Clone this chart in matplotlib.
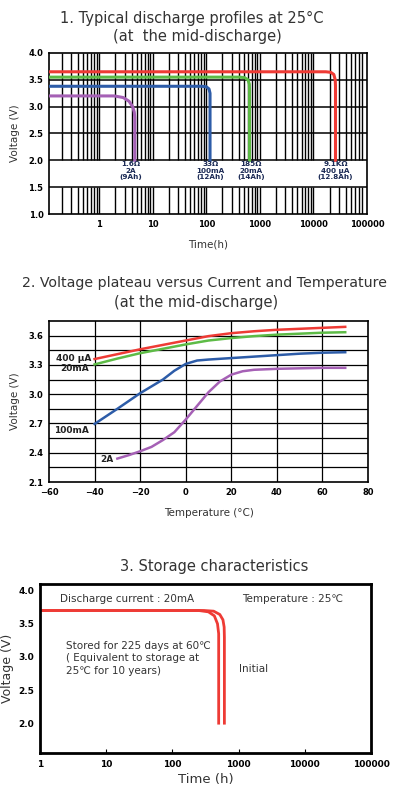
import matplotlib.pyplot as plt
import matplotlib.ticker as mticker
import numpy as np

# --- chart 1: discharge profiles (time in h, voltage in V)
t_2A = [0.115, 1.9, 2.8, 3.6, 4.2, 4.5, 4.6, 4.6]
v_2A = [3.20, 3.20, 3.17, 3.10, 3.00, 2.90, 2.80, 2.00]
t_100mA = [0.115, 82, 100, 112, 117, 117]
v_100mA = [3.38, 3.38, 3.37, 3.33, 3.25, 2.00]
t_20mA = [0.115, 420, 520, 600, 635, 640, 640]
v_20mA = [3.55, 3.55, 3.54, 3.50, 3.42, 3.30, 2.00]
t_400uA = [0.115, 17000, 21000, 24000, 25500, 25800, 25800]
v_400uA = [3.65, 3.65, 3.64, 3.60, 3.50, 3.38, 2.00]
load_labels = ["1.6Ω\n2A\n(9Ah)", "33Ω\n100mA\n(12Ah)", "185Ω\n20mA\n(14Ah)", "9.1KΩ\n400 µA\n(12.8Ah)"]
load_label_x = [3.9, 120, 690, 25800]

# --- chart 2: plateau voltage vs temperature
temp_400uA = [-40, -30, -20, -10, 0, 10, 20, 30, 40, 50, 60, 70]
plat_400uA = [3.36, 3.41, 3.46, 3.505, 3.55, 3.595, 3.625, 3.645, 3.66, 3.67, 3.68, 3.69]
temp_20mA = [-40, -30, -20, -10, 0, 10, 20, 30, 40, 50, 60, 70]
plat_20mA = [3.305, 3.365, 3.42, 3.465, 3.51, 3.55, 3.575, 3.595, 3.61, 3.62, 3.63, 3.635]
temp_100mA = [-40, -30, -20, -10, -5, 0, 5, 10, 20, 30, 40, 50, 60, 70]
plat_100mA = [2.695, 2.85, 3.01, 3.15, 3.24, 3.31, 3.345, 3.355, 3.37, 3.385, 3.40, 3.415, 3.425, 3.43]
temp_2A = [-30, -25, -20, -15, -10, -5, 0, 5, 10, 15, 20, 25, 30, 40, 50, 60, 70]
plat_2A = [2.34, 2.375, 2.415, 2.46, 2.53, 2.61, 2.74, 2.88, 3.02, 3.13, 3.20, 3.235, 3.25, 3.26, 3.265, 3.27, 3.27]

# --- chart 3: storage
t_initial = [1, 300, 420, 520, 580, 605, 610, 610]
v_initial = [3.70, 3.70, 3.69, 3.64, 3.56, 3.45, 3.30, 2.00]
t_stored = [1, 250, 350, 430, 480, 500, 500]
v_stored = [3.70, 3.70, 3.68, 3.62, 3.50, 3.35, 2.00]

RED, GREEN, BLUE, PURPLE = "#ee3b35", "#5dbb46", "#2d5ca8", "#a560b5"
TXT = "#333333"
W, H = 397, 792
plt.rcParams['font.family'] = ['DejaVu Sans']


def box(left, top, right, bottom):
    return [left / W, 1 - bottom / H, (right - left) / W, (bottom - top) / H]


fig = plt.figure(figsize=(3.97, 7.92), dpi=100)

# ================= chart 1
fig.text(192 / W, 1 - 18 / H, "1. Typical discharge profiles at 25°C", ha="center", va="center",
         fontsize=10.5, color=TXT)
fig.text(197 / W, 1 - 37 / H, "(at  the mid-discharge)", ha="center", va="center", fontsize=10.5, color=TXT)
ax1 = fig.add_axes(box(49, 53, 367, 214))
ax1.set_xscale("log")
ax1.set_xlim(0.115, 88000)
ax1.set_ylim(1.0, 4.0)
# vertical log grid, skipped in the label band 1.5-2.0
gx = [m * 10.0 ** e for e in range(-1, 5) for m in range(1, 10)]
gx = [g for g in gx if 0.115 < g < 88000]
ax1.vlines(gx, 1.0, 1.5, color="black", lw=1.0, zorder=1)
ax1.vlines(gx, 2.0, 4.0, color="black", lw=1.0, zorder=1)
for yv in np.arange(1.5, 4.0, 0.5):
    ax1.axhline(yv, color="black", lw=1.1, zorder=1)
ax1.plot(t_400uA, v_400uA, color=RED, lw=2.2, solid_joinstyle="round", zorder=3)
ax1.plot(t_20mA, v_20mA, color=GREEN, lw=2.2, solid_joinstyle="round", zorder=3)
ax1.plot(t_100mA, v_100mA, color=BLUE, lw=2.2, solid_joinstyle="round", zorder=3)
ax1.plot(t_2A, v_2A, color=PURPLE, lw=2.2, solid_joinstyle="round", zorder=3)
for lx, lab in zip(load_label_x, load_labels):
    ax1.text(lx, 1.98, lab, ha="center", va="top", fontsize=5.2, color="#1b2a55",
             fontweight="bold", linespacing=1.1)
ax1.set_xticks([1, 10, 100, 1000, 10000, 100000])
ax1.set_xticklabels(["1", "10", "100", "1000", "10000", "100000"])
ax1.xaxis.set_minor_locator(mticker.NullLocator())
ax1.set_yticks([1.0, 1.5, 2.0, 2.5, 3.0, 3.5, 4.0])
ax1.tick_params(labelsize=6, length=0, pad=4)
for lab in ax1.get_xticklabels() + ax1.get_yticklabels():
    lab.set_fontweight("bold")
for s in ax1.spines.values():
    s.set_linewidth(1.2)
ax1.set_xlabel("Time(h)", fontsize=7.5, color=TXT, labelpad=8)
ax1.set_ylabel("Voltage (V)", fontsize=7.5, color=TXT, labelpad=6)

# ================= chart 2
fig.text(22 / W, 1 - 283 / H, "2. Voltage plateau versus Current and Temperature", ha="left", va="center",
         fontsize=10.2, color=TXT)
fig.text(196 / W, 1 - 303 / H, "(at the mid-discharge)", ha="center", va="center", fontsize=10.5, color=TXT)
ax2 = fig.add_axes(box(49, 321, 368, 482))
ax2.set_xlim(-60, 80)
ax2.set_ylim(2.1, 3.75)
for xv in range(-40, 80, 20):
    ax2.axvline(xv, color="black", lw=0.9, zorder=1)
for yv in np.arange(2.25, 3.75, 0.15):
    ax2.axhline(yv, color="black", lw=0.9, zorder=1)
ax2.plot(temp_400uA, plat_400uA, color=RED, lw=1.8, zorder=3)
ax2.plot(temp_20mA, plat_20mA, color=GREEN, lw=1.8, zorder=3)
ax2.plot(temp_100mA, plat_100mA, color=BLUE, lw=1.8, zorder=3)
ax2.plot(temp_2A, plat_2A, color=PURPLE, lw=1.8, zorder=3)
lab_kw = dict(fontsize=6.5, fontweight="bold", color="#222222", va="center")
ax2.text(-41.5, 3.37, "400 µA", ha="right", **lab_kw)
ax2.text(-42.3, 3.26, "20mA", ha="right", **lab_kw)
ax2.text(-42.7, 2.63, "100mA", ha="right", **lab_kw)
ax2.text(-34.7, 2.33, "2A", ha="center", **lab_kw)
ax2.set_xticks(range(-60, 81, 20))
ax2.set_yticks([2.1, 2.4, 2.7, 3.0, 3.3, 3.6])
ax2.tick_params(labelsize=6, length=0, pad=4)
for lab in ax2.get_xticklabels() + ax2.get_yticklabels():
    lab.set_fontweight("bold")
for s in ax2.spines.values():
    s.set_linewidth(1.2)
ax2.set_xlabel("Temperature (°C)", fontsize=7.5, color=TXT, labelpad=8)
ax2.set_ylabel("Voltage (V)", fontsize=7.5, color=TXT, labelpad=6)

# ================= chart 3
fig.text(214 / W, 1 - 566 / H, "3. Storage characteristics", ha="center", va="center",
         fontsize=10.5, color=TXT)
ax3 = fig.add_axes(box(40, 584, 371, 753))
ax3.set_xscale("log")
ax3.set_xlim(1, 100000)
ax3.set_ylim(1.55, 4.1)
ax3.plot(t_initial, v_initial, color=RED, lw=2.0, solid_joinstyle="round")
ax3.plot(t_stored, v_stored, color=RED, lw=2.0, solid_joinstyle="round")
ax3.text(0.06, 0.91, "Discharge current : 20mA", transform=ax3.transAxes, fontsize=7.5, color=TXT, va="center")
ax3.text(0.61, 0.91, "Temperature : 25℃", transform=ax3.transAxes, fontsize=7.5, color=TXT, va="center")
ax3.text(0.08, 0.56, "Stored for 225 days at 60℃\n( Equivalent to storage at\n25℃ for 10 years)",
         transform=ax3.transAxes, fontsize=7.5, color=TXT, va="center", linespacing=1.3)
ax3.text(0.60, 0.50, "Initial", transform=ax3.transAxes, fontsize=7.5, color=TXT, va="center")
ax3.set_xticks([1, 10, 100, 1000, 10000, 100000])
ax3.set_xticklabels(["1", "10", "100", "1000", "10000", "100000"])
ax3.xaxis.set_minor_locator(mticker.NullLocator())
ax3.set_yticks([2.0, 2.5, 3.0, 3.5, 4.0])
ax3.tick_params(axis="x", direction="in", length=3, width=0.8, labelsize=6.5, pad=5)
ax3.tick_params(axis="y", length=0, labelsize=6.5, pad=4)
for lab in ax3.get_xticklabels() + ax3.get_yticklabels():
    lab.set_fontweight("bold")
for s in ax3.spines.values():
    s.set_linewidth(2.0)
ax3.set_xlabel("Time (h)", fontsize=9.5, color=TXT, labelpad=3)
ax3.set_ylabel("Voltage (V)", fontsize=9, color=TXT, labelpad=3)

fig.savefig("out.png", dpi=100, facecolor="white")
